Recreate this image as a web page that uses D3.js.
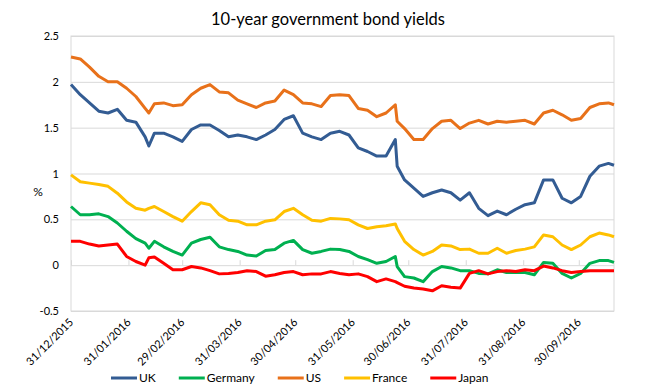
<!DOCTYPE html>
<html>
<head>
<meta charset="utf-8">
<script src="https://cdnjs.cloudflare.com/ajax/libs/d3/7.8.5/d3.min.js"></script>
<style>
body { margin: 0; background: #fff; }
text { font-family: Lato, "Open Sans", sans-serif; }
</style>
</head>
<body>
<div id="chart"></div>
<script>
// sample dates (roughly every 5 days)
var dates = ["2015-12-31","2016-01-05","2016-01-10","2016-01-15","2016-01-20","2016-01-25","2016-01-30",
    "2016-02-04","2016-02-09","2016-02-11","2016-02-14","2016-02-19","2016-02-24","2016-02-29",
    "2016-03-05","2016-03-10","2016-03-15","2016-03-20","2016-03-25","2016-03-30",
    "2016-04-04","2016-04-09","2016-04-14","2016-04-19","2016-04-24","2016-04-29",
    "2016-05-04","2016-05-09","2016-05-14","2016-05-19","2016-05-24","2016-05-29",
    "2016-06-03","2016-06-08","2016-06-13","2016-06-18","2016-06-23","2016-06-24","2016-06-28",
    "2016-07-03","2016-07-08","2016-07-13","2016-07-18","2016-07-23","2016-07-28",
    "2016-08-02","2016-08-07","2016-08-12","2016-08-17","2016-08-22","2016-08-27",
    "2016-09-01","2016-09-06","2016-09-11","2016-09-16","2016-09-21","2016-09-26",
    "2016-10-01","2016-10-06","2016-10-11","2016-10-16","2016-10-19"];

var uk = [1.97,1.86,1.77,1.68,1.66,1.70,1.58,1.56,1.40,1.30,1.44,1.44,1.40,1.35,1.48,1.53,1.53,1.47,1.40,1.42,
    1.40,1.37,1.42,1.48,1.59,1.63,1.44,1.40,1.37,1.44,1.46,1.42,1.28,1.24,1.19,1.19,1.37,1.08,0.93,0.84,
    0.75,0.79,0.82,0.79,0.71,0.79,0.62,0.54,0.59,0.55,0.61,0.66,0.68,0.93,0.93,0.73,0.68,0.75,0.97,1.08,
    1.11,1.09];
var germany = [0.64,0.55,0.55,0.56,0.53,0.46,0.37,0.29,0.24,0.185,0.26,0.20,0.15,0.11,0.24,0.28,0.305,0.20,0.17,0.15,
    0.11,0.10,0.16,0.17,0.24,0.27,0.17,0.13,0.15,0.175,0.17,0.15,0.095,0.06,0.02,0.04,0.095,-0.015,-0.125,-0.14,
    -0.18,-0.07,-0.015,-0.03,-0.06,-0.06,-0.09,-0.095,-0.05,-0.08,-0.08,-0.08,-0.105,0.03,0.02,-0.09,-0.14,-0.09,0.02,0.05,
    0.05,0.03];
var us = [2.27,2.25,2.16,2.06,2.00,2.00,1.93,1.84,1.71,1.66,1.76,1.77,1.74,1.75,1.86,1.93,1.97,1.89,1.88,1.80,
    1.76,1.72,1.77,1.79,1.91,1.86,1.77,1.76,1.73,1.85,1.86,1.85,1.71,1.69,1.62,1.66,1.75,1.57,1.49,1.37,
    1.37,1.49,1.57,1.58,1.49,1.55,1.58,1.54,1.57,1.56,1.57,1.58,1.54,1.66,1.69,1.64,1.58,1.60,1.72,1.76,
    1.77,1.75];
var france = [0.985,0.91,0.895,0.88,0.86,0.785,0.69,0.62,0.60,0.62,0.64,0.585,0.53,0.48,0.585,0.68,0.66,0.55,0.49,0.48,
    0.44,0.44,0.48,0.495,0.585,0.62,0.55,0.49,0.48,0.51,0.505,0.495,0.44,0.40,0.42,0.43,0.45,0.40,0.26,0.17,
    0.11,0.15,0.22,0.21,0.17,0.175,0.13,0.13,0.185,0.13,0.16,0.175,0.20,0.33,0.31,0.22,0.17,0.22,0.31,0.35,
    0.33,0.31];
var japan = [0.26,0.26,0.23,0.21,0.22,0.23,0.095,0.04,0.0,0.08,0.09,0.02,-0.05,-0.05,-0.015,-0.03,-0.06,-0.095,-0.09,-0.08,
    -0.06,-0.07,-0.12,-0.105,-0.08,-0.07,-0.105,-0.095,-0.095,-0.07,-0.09,-0.105,-0.095,-0.125,-0.18,-0.15,-0.18,-0.19,-0.23,-0.25,
    -0.26,-0.28,-0.225,-0.24,-0.25,-0.09,-0.06,-0.095,-0.07,-0.06,-0.07,-0.05,-0.06,-0.01,-0.03,-0.06,-0.08,-0.07,-0.06,-0.06,
    -0.06,-0.06];

var seriesNames = ["UK", "Germany", "US", "France", "Japan"];
var seriesColors = ["#335C93", "#00B050", "#E8711A", "#FFC000", "#FF0000"];
var yTicks = [-0.5, 0, 0.5, 1, 1.5, 2, 2.5];
var xTickDates = ["2015-12-31","2016-01-31","2016-02-29","2016-03-31","2016-04-30",
    "2016-05-31","2016-06-30","2016-07-31","2016-08-31","2016-09-30"];

var parse = d3.timeParse("%Y-%m-%d");
var fmt = d3.timeFormat("%d/%m/%Y");

var W = 656, H = 388;
var plotL = 71, plotR = 614, plotT = 36, plotB = 311;

var svg = d3.select("#chart").append("svg")
    .attr("width", W)
    .attr("height", H);

var x = d3.scaleTime()
    .domain([parse(dates[0]), parse(dates[dates.length - 1])])
    .range([plotL, plotR]);
var y = d3.scaleLinear()
    .domain([-0.5, 2.5])
    .range([plotB, plotT]);

//title
svg.append("text")
    .attr("x", 328)
    .attr("y", 25)
    .attr("text-anchor", "middle")
    .style("font-size", "16.5px")
    .style("fill", "#000")
    .text("10-year government bond yields");

//gridlines + y labels
var yAxis = svg.append("g")
    .attr("transform", "translate(" + plotL + ",0)")
    .call(d3.axisLeft(y).tickValues(yTicks).tickSize(-(plotR - plotL)).tickPadding(12)
        .tickFormat(function (d) { return String(d); }));
yAxis.select(".domain").remove();
yAxis.selectAll("line").style("stroke", "#D9D9D9");
yAxis.selectAll("text").style("font-size", "11px").style("fill", "#000").style("font-family", "Lato, sans-serif");

//plot frame
svg.append("rect")
    .attr("x", plotL)
    .attr("y", plotT)
    .attr("width", plotR - plotL)
    .attr("height", plotB - plotT)
    .style("fill", "none")
    .style("stroke", "#D9D9D9");

//small ticks on the zero line
var xAxis = svg.append("g")
    .attr("transform", "translate(0," + y(0) + ")")
    .call(d3.axisTop(x).tickValues(xTickDates.map(parse)).tickSize(5).tickFormat(""));
xAxis.select(".domain").remove();
xAxis.selectAll("line").style("stroke", "#D9D9D9");

//rotated date labels
svg.append("g").selectAll("text")
    .data(xTickDates)
    .enter()
    .append("text")
    .attr("transform", function (d) {
        return "translate(" + (x(parse(d)) + 3) + "," + (plotB + 12) + ") rotate(-45)";
    })
    .attr("text-anchor", "end")
    .style("font-size", "11px")
    .style("fill", "#000")
    .text(function (d) { return fmt(parse(d)); });

//% label
svg.append("text")
    .attr("x", 38)
    .attr("y", 196)
    .attr("text-anchor", "middle")
    .style("font-size", "12px")
    .text("%");

//lines
var allSeries = [uk, germany, us, france, japan];
var line = d3.line()
    .x(function (d, i) { return x(parse(dates[i])); })
    .y(function (d) { return y(d); });

allSeries.forEach(function (s, k) {
    svg.append("path")
        .attr("d", line(s))
        .style("fill", "none")
        .style("stroke", seriesColors[k])
        .style("stroke-width", 3)
        .style("stroke-linejoin", "round");
});

//legend
var legend = svg.append("g");
var lx = 111, ly = 378;
seriesNames.forEach(function (name, k) {
    legend.append("line")
        .attr("x1", lx)
        .attr("x2", lx + 26)
        .attr("y1", ly)
        .attr("y2", ly)
        .style("stroke", seriesColors[k])
        .style("stroke-width", 3);
    var t = legend.append("text")
        .attr("x", lx + 28)
        .attr("y", ly + 4)
        .style("font-size", "12px")
        .style("fill", "#000")
        .text(name);
    lx = lx + 28 + t.node().getComputedTextLength() + 23;
});
</script>
</body>
</html>
